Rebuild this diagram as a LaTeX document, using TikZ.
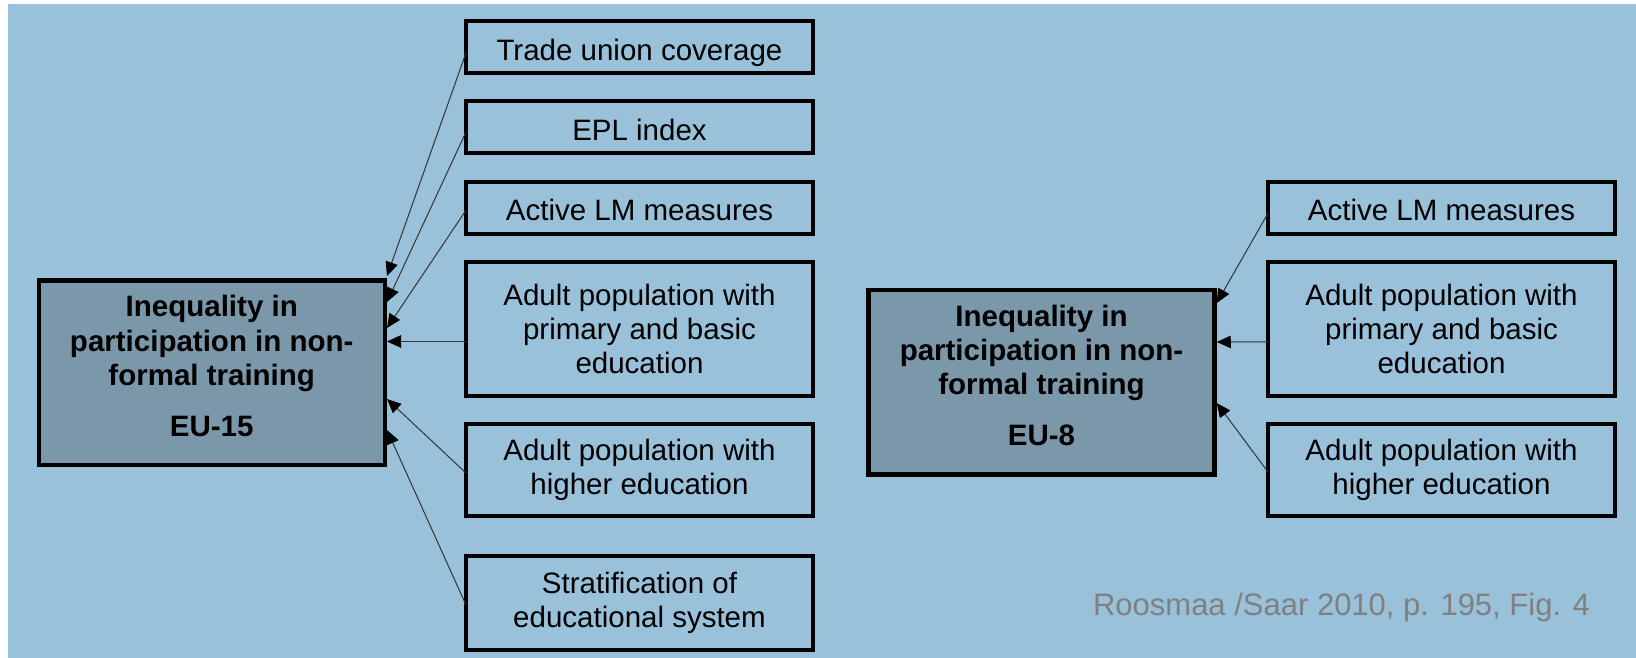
\documentclass[tikz,border=0pt]{standalone}
\usepackage{fontspec}
\setmainfont{Liberation Sans}
\usetikzlibrary{arrows.meta}
\definecolor{bgblue}{HTML}{9AC1DA}
\definecolor{bigfill}{HTML}{7B98AB}
\definecolor{capgray}{HTML}{808080}
\begin{document}
\begin{tikzpicture}[x=1pt,y=-1pt,
  factor/.style={draw=black, line width=4pt, fill=bgblue, minimum width=347pt,
    inner sep=0pt, outer sep=0pt, align=center, font=\fontsize{29.5}{34.2}\selectfont},
  single/.style={factor, minimum height=52pt, text height=26pt, text depth=0pt},
  outcome/.style={draw=black, line width=4.5pt, fill=bigfill, minimum width=346pt,
    minimum height=184.5pt, inner sep=0pt, outer sep=0pt, align=center,
    font=\fontsize{29.5}{34.2}\selectfont\bfseries},
  link/.style={draw=black!80, line width=1pt, -{Triangle[length=14pt,width=12.5pt,black]}}]
\fill[white] (0,0) rectangle (1636,658);
\fill[bgblue] (8,4) rectangle (1636,658);
\useasboundingbox (0,0) rectangle (1636,658);

% EU-15 side
\node[single] (L1) at (639.5,47.3) {Trade union coverage};
\node[single] (L2) at (639.5,127.5) {EPL index};
\node[single] (L3) at (639.5,207.7) {Active LM measures};
\node[factor, minimum height=133.5pt] (L4) at (639.5,328.75) {Adult population with\\primary and basic\\education};
\node[factor, minimum height=92.6pt] (L5) at (639.5,470) {Adult population with\\higher education};
\node[factor, minimum height=93.4pt] (L6) at (639.5,603) {Stratification of\\educational system};
\node[outcome] (BL) at (211.75,372.5) {Inequality in\\participation in non-\\formal training\\[17pt]EU-15\rule[-13pt]{0pt}{13pt}};

% EU-8 side
\node[outcome] (BR) at (1041.5,382) {Inequality in\\participation in non-\\formal training\\[17pt]EU-8\rule[-13pt]{0pt}{13pt}};
\node[single] (R3) at (1441.5,207.7) {Active LM measures};
\node[factor, minimum height=133.5pt] (R4) at (1441.5,328.75) {Adult population with\\primary and basic\\education};
\node[factor, minimum height=92.6pt] (R5) at (1441.5,470) {Adult population with\\higher education};

\node[font=\fontsize{31}{36}\selectfont, text=capgray, anchor=base, inner sep=0pt] (cite) at (1341.5,615) {Roosmaa /Saar 2010, p. 195, Fig. 4};

% connectors
\draw[link] ([yshift=-5.5pt]L1.west) -- ([xshift=2.25pt,yshift=4.25pt]BL.north east);
\draw[link] ([yshift=-4.5pt]L2.west) -- ([xshift=2.25pt,yshift=-21.75pt]BL.north east);
\draw[link] ([yshift=-2.5pt]L3.west) -- ([xshift=2.25pt,yshift=-47.75pt]BL.north east);
\draw[link] ([yshift=-12.75pt]L4.west) -- ([xshift=2.25pt,yshift=-61.25pt]BL.north east);
\draw[link] ([yshift=-3pt]L5.west) -- ([xshift=2.25pt,yshift=-118.75pt]BL.north east);
\draw[link] ([yshift=-2pt]L6.west) -- ([xshift=2.25pt,yshift=-149.75pt]BL.north east);

\draw[link] ([yshift=-5.5pt]R3.west) -- ([xshift=2.25pt,yshift=-13.25pt]BR.north east);
\draw[link] ([yshift=-13pt]R4.west) -- ([xshift=2.25pt,yshift=-52.25pt]BR.north east);
\draw[link] ([yshift=-2pt]R5.west) -- ([xshift=2.25pt,yshift=-113.25pt]BR.north east);
\end{tikzpicture}
\end{document}
